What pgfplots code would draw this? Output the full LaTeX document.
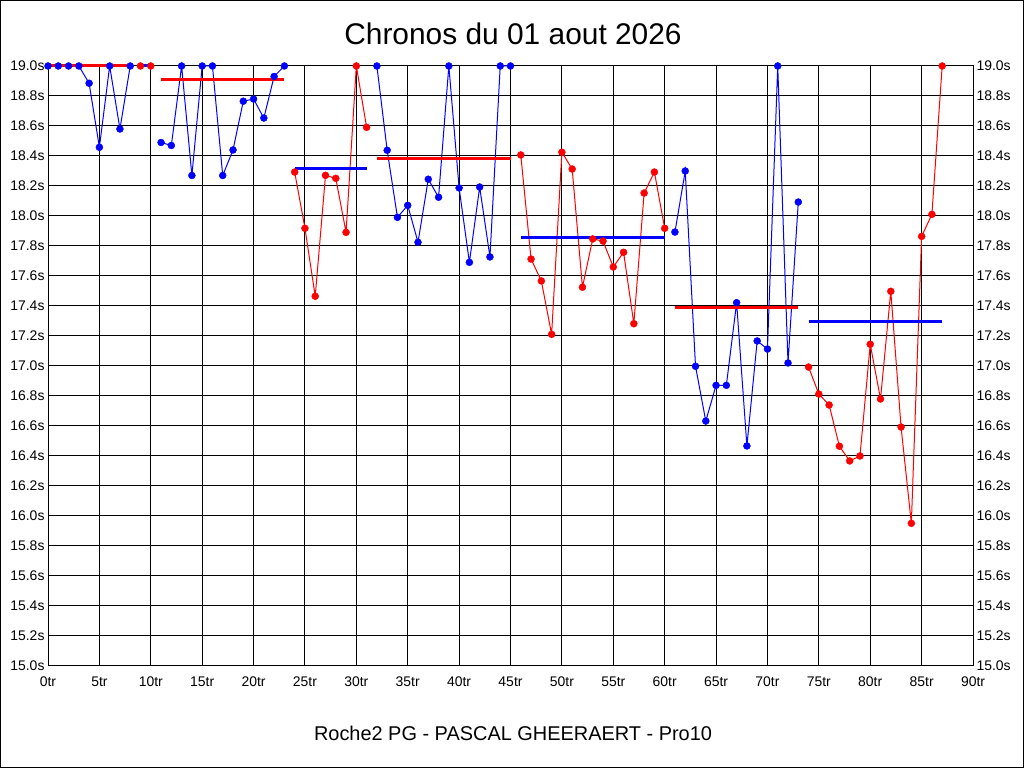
\documentclass[border=0pt]{standalone}
\usepackage{pgfplots}
\pgfplotsset{compat=1.18}
\usepackage{pgfplotstable}
\usepackage{fontspec}
\setmainfont{Liberation Sans}

\pgfplotstableread{
x y
0 19.0
1 19.0
2 19.0
3 19.0
4 18.885
5 18.458
6 19.0
7 18.58
8 19.0
}\gA
\pgfplotstableread{
x y
9 19.0
10 19.0
}\gB
\pgfplotstableread{
x y
11 18.49
12 18.47
13 19.0
14 18.27
15 19.0
16 19.0
17 18.27
18 18.44
19 18.765
20 18.78
21 18.653
22 18.93
23 19.0
}\gC
\pgfplotstableread{
x y
24 18.293
25 17.918
26 17.465
27 18.271
28 18.251
29 17.891
30 19.0
31 18.591
}\gD
\pgfplotstableread{
x y
32 19.0
33 18.438
34 17.991
35 18.071
36 17.825
37 18.245
38 18.125
39 19.0
40 18.187
41 17.691
42 18.193
43 17.727
44 19.0
45 19.0
}\gE
\pgfplotstableread{
x y
46 18.407
47 17.713
48 17.567
49 17.211
50 18.425
51 18.313
52 17.525
53 17.847
54 17.833
55 17.66
56 17.758
57 17.282
58 18.153
59 18.293
60 17.918
}\gF
\pgfplotstableread{
x y
61 17.893
62 18.30
63 16.998
64 16.633
65 16.871
66 16.871
67 17.422
68 16.467
69 17.167
70 17.113
71 19.0
72 17.02
73 18.093
}\gG
\pgfplotstableread{
x y
74 16.993
75 16.813
76 16.74
77 16.465
78 16.367
79 16.40
80 17.145
81 16.78
82 17.498
83 16.593
84 15.951
85 17.864
86 18.011
87 19.0
}\gH

\pgfplotsset{
  common/.style={
    at={(48bp,102bp)}, anchor=south west,
    scale only axis, width=925bp, height=600bp,
    xmin=0, xmax=90, ymin=15, ymax=19,
    xtick={0,5,10,15,20,25,30,35,40,45,50,55,60,65,70,75,80,85,90},
    ytick={15,15.2,15.4,15.6,15.8,16,16.2,16.4,16.6,16.8,17,17.2,17.4,17.6,17.8,18,18.2,18.4,18.6,18.8,19},
    major tick length=0pt,
    /pgf/number format/assume math mode=true,
    tick label style={font=\fontsize{14}{16}\selectfont, black},
    xticklabel style={yshift=-7bp},
    yticklabel={\pgfmathprintnumber[fixed,fixed zerofill,precision=1]{\tick}s},
    xticklabel={\pgfmathprintnumber{\tick}tr},
    axis line style={black, line width=1bp},
  },
  dl/.style={line width=1bp, no markers},
  av/.style={line width=3bp, no markers},
  mk/.style={only marks, mark=*, mark size=3.5bp, mark options={line width=0.4bp}},
}

\begin{document}
\begin{tikzpicture}[x=1bp,y=1bp]
\draw[line width=1bp] (0.5,0.5) rectangle (1023.5,767.5);
\node[font=\fontsize{30}{33}\selectfont] at (513,734) {Chronos du 01 aout 2026};
\node[font=\fontsize{20}{22}\selectfont] at (513,35) {Roche2 PG - PASCAL GHEERAERT - Pro10};
\begin{axis}[common, grid=major, grid style={black, line width=1bp}, clip=false]
\addplot[blue, dl] table {\gA};
\addplot[red, dl] table {\gB};
\addplot[blue, dl] table {\gC};
\addplot[red, dl] table {\gD};
\addplot[blue, dl] table {\gE};
\addplot[red, dl] table {\gF};
\addplot[blue, dl] table {\gG};
\addplot[red, dl] table {\gH};
\addplot[red, av] coordinates {(0,19.0) (8,19.0)};
\addplot[blue, av] coordinates {(9,19.0) (10,19.0)};
\addplot[red, av] coordinates {(11,18.91) (23,18.91)};
\addplot[blue, av] coordinates {(24,18.318) (31,18.318)};
\addplot[red, av] coordinates {(32,18.385) (45,18.385)};
\addplot[blue, av] coordinates {(46,17.858) (60,17.858)};
\addplot[red, av] coordinates {(61,17.391) (73,17.391)};
\addplot[blue, av] coordinates {(74,17.298) (87,17.298)};
\addplot[blue, mk] table {\gA};
\addplot[red, mk] table {\gB};
\addplot[blue, mk] table {\gC};
\addplot[red, mk] table {\gD};
\addplot[blue, mk] table {\gE};
\addplot[red, mk] table {\gF};
\addplot[blue, mk] table {\gG};
\addplot[red, mk] table {\gH};
\end{axis}
\begin{axis}[common, axis x line=none, axis y line*=right, yticklabel pos=right]
\end{axis}
\end{tikzpicture}
\end{document}
